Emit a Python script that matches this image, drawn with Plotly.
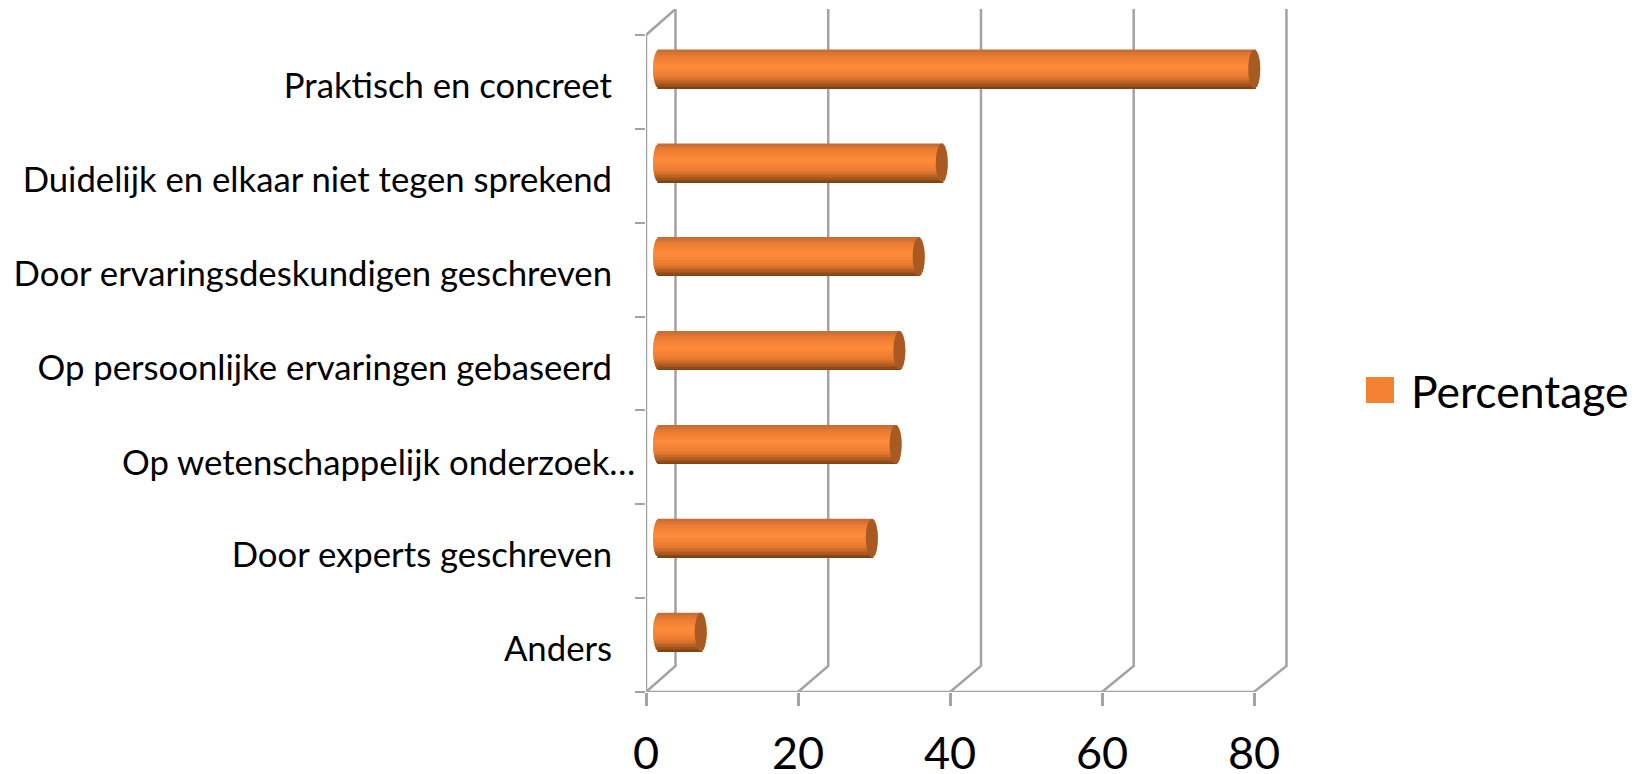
import math
import plotly.graph_objects as go

categories = ["Anders", "Door experts geschreven", "Op wetenschappelijk onderzoek…",
              "Op persoonlijke ervaringen gebaseerd", "Door ervaringsdeskundigen geschreven",
              "Duidelijk en elkaar niet tegen sprekend", "Praktisch en concreet"]
values = [5.6, 28.6, 31.8, 32.3, 34.9, 38.0, 80.0]
x_ticks = [0, 20, 40, 60, 80]
series_name = "Percentage"
long_label = "Op wetenschappelijk onderzoek…"   # this one runs closer to the axis in the original

W, H = 1642, 774
L, R, T, B = 646, 1292, 9, 692            # plot box in page px
PXU = (1254 - 646) / 80                   # px per axis unit
BAND = (692 - 35) / 7                     # px per category band
DX, DY = 29.5 / PXU, 26 / BAND            # depth of the 3D floor, in axis units
xmax = (R - L) / PXU
ymax = 6.5 + DY
# bars sit half way into the depth of the chart
BY = 13 / BAND
CAP = 6 / 7.44
BAR_W = 38.5 / BAND
GRID = "#a3a3a3"


def shade(t):
    """t: 0 at lower edge of the tube, 1 at upper edge."""
    stops = [(0, (118, 62, 20)), (0.12, (170, 90, 32)), (0.3, (232, 122, 48)), (0.58, (255, 140, 58)),
             (0.85, (236, 124, 50)), (1, (196, 108, 52))]
    for (a, ca), (b, cb) in zip(stops, stops[1:]):
        if a <= t <= b:
            f = (t - a) / (b - a)
            return "rgb(%d,%d,%d)" % tuple(ca[i] + (cb[i] - ca[i]) * f for i in range(3))
    return "rgb(255,140,58)"


fig = go.Figure()

# invisible trace that owns the category axis
fig.add_trace(go.Scatter(x=[0] * 7, y=categories, mode="markers", marker=dict(opacity=0),
                         showlegend=False, hoverinfo="skip"))

# chart walls and floor, derived from the ticks
wx, wy = [], []
for t in x_ticks:
    dx = DX * (1 + 0.1 * t / x_ticks[-1])     # slight perspective
    wx += [t, t + dx, t + dx, None]
    wy += [-0.5, -0.5 + DY, ymax, None]
wx += [0, DX, None, 0, 0, None, x_ticks[0], x_ticks[-1], None]
wy += [6.5, ymax, None, -0.5, 6.5, None, -0.5, -0.5, None]
fig.add_trace(go.Scatter(x=wx, y=wy, mode="lines", line=dict(color=GRID, width=2.5),
                         yaxis="y3", cliponaxis=False, showlegend=False, hoverinfo="skip"))

# the tube: thin slices across each bar for the shading
N = 26
for k in range(N):
    t = (k + 0.5) / N
    r = CAP * math.sqrt(max(0, 1 - (2 * t - 1) ** 2))
    fig.add_trace(go.Bar(
        y=list(range(7)), x=[v + r + r for v in values], base=[-r] * 7, orientation="h",
        width=BAR_W / N * 1.08, offset=-BAR_W / 2 + BAR_W * k / N,
        marker=dict(color=shade(t), line=dict(width=0)),
        xaxis="x2", yaxis="y2", showlegend=False, name=series_name, hoverinfo="skip"))

shapes = []
for v, i in zip(values, range(7)):
    shapes.append(dict(type="circle", xref="x2", yref="y2", x0=v - CAP, x1=v + CAP,
                       y0=i - BAR_W / 2, y1=i + BAR_W / 2, fillcolor="#a85a22", line_width=0))
# legend swatch
shapes.append(dict(type="rect", xref="paper", yref="paper",
                   x0=(1366 - L) / (R - L), x1=(1394 - L) / (R - L),
                   y0=(B - 403) / (B - T), y1=(B - 377) / (B - T),
                   fillcolor="#f58232", line_width=0))

fig.update_layout(
    template=None,
    width=W, height=H, margin=dict(l=L, r=W - R, t=T, b=H - B, autoexpand=False), autosize=False,
    paper_bgcolor="white", plot_bgcolor="white", barmode="overlay", showlegend=False,
    font=dict(family="Lato", color="black"), shapes=shapes,
    xaxis=dict(range=[0, xmax], tickvals=x_ticks, showgrid=False, zeroline=False, automargin=False,
               showline=False, ticks="outside", ticklen=13, tickcolor=GRID,
               tickwidth=2.5, tickfont=dict(size=45), ticklabelstandoff=9),
    yaxis=dict(type="category", categoryorder="array", categoryarray=categories, range=[-0.5, ymax],
               tickmode="array", tickvals=categories,
               ticktext=["" if c == long_label else c for c in categories],
               tickson="boundaries", showgrid=False, zeroline=False, automargin=False, showline=False,
               ticks="outside", ticklen=10, tickcolor=GRID,
               tickwidth=2, tickfont=dict(size=34.7), ticklabelstandoff=33, ticklabelshift=4),
    xaxis2=dict(overlaying="x", anchor="y", visible=False,
                range=[-(659 - L) / 7.44, (R - 659) / 7.44]),
    yaxis2=dict(overlaying="y", anchor="x", visible=False, range=[-0.5 - BY, ymax - BY]),
    yaxis3=dict(overlaying="y", anchor="x", visible=False, range=[-0.5, ymax]),
    annotations=[
        dict(text=series_name, xref="paper", yref="paper", showarrow=False,
             x=(1409 - L) / (R - L), y=(B - 390) / (B - T), xanchor="left", yanchor="middle",
             font=dict(size=44.5, color="black")),
        dict(text=long_label, xref="paper", yref="y3", showarrow=False,
             x=-(646 - 637) / (R - L), y=categories.index(long_label), xanchor="right", yanchor="middle",
             yshift=-4, xshift=0, font=dict(size=34.7, color="black")),
    ],
)

fig.write_html("out.html", config=dict(displayModeBar=False),
               post_script="document.body.style.margin='0';")
